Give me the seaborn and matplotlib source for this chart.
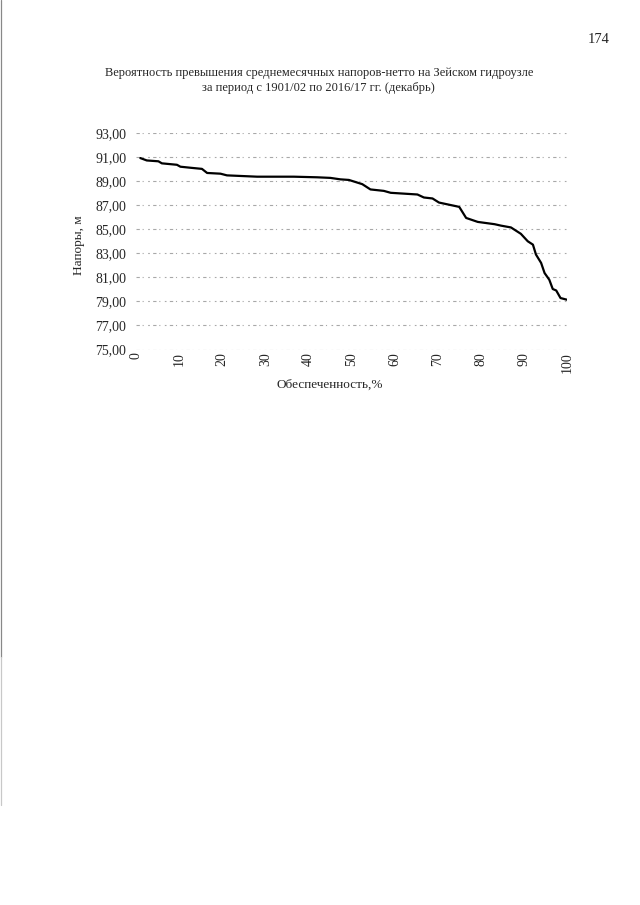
import matplotlib
matplotlib.use("Agg")
import matplotlib.pyplot as plt
import matplotlib.ticker as mticker
from matplotlib.lines import Line2D
import seaborn as sns
import pandas as pd

# Exceedance probability, % and monthly mean net head, m (December)
probability = [1.0, 2.5, 5.2, 6.0, 9.5, 10.3, 13.0, 15.3, 16.5, 19.6, 21.1,
               28.1, 36.6, 42.0, 45.1, 47.4, 49.4, 52.5, 54.4, 57.5, 59.1,
               65.3, 66.8, 68.8, 70.3, 75.0, 76.6, 79.3, 83.2, 84.7, 87.0,
               89.3, 90.9, 92.1, 92.8, 94.0, 94.8, 95.9, 96.7, 97.5, 98.5,
               100.0]
head = [90.92, 90.72, 90.65, 90.48, 90.36, 90.20, 90.10, 90.02, 89.68, 89.62,
        89.48, 89.37, 89.37, 89.32, 89.27, 89.15, 89.10, 88.75, 88.31, 88.19,
        88.03, 87.89, 87.64, 87.56, 87.22, 86.86, 85.94, 85.61, 85.42, 85.30,
        85.15, 84.62, 84.00, 83.72, 82.90, 82.20, 81.36, 80.80, 80.03, 79.91,
        79.28, 79.14]

x_ticks = [0, 10, 20, 30, 40, 50, 60, 70, 80, 90, 100]
y_ticks = [75, 77, 79, 81, 83, 85, 87, 89, 91, 93]

title = ("Вероятность превышения среднемесячных напоров-нетто на Зейском гидроузле\n"
         "за период с 1901/02 по 2016/17 гг. (декабрь)")

sns.set_theme(style="white")
plt.rcParams["font.family"] = ["Liberation Serif", "DejaVu Serif"]

df = pd.DataFrame({"p": probability, "h": head})

fig = plt.figure(figsize=(6.4, 9.05), dpi=100)
ax = fig.add_axes([0.2125, 0.6138, 0.6734, 0.2392])

# faint broken horizontal guide lines
for y in y_ticks:
    ax.axhline(y, color="#a8a8a8", linewidth=0.8,
               linestyle=(0, (3, 2.5, 1, 4, 1.5, 3)), zorder=1)

sns.lineplot(data=df, x="p", y="h", ax=ax, color="black", linewidth=1.6,
             zorder=3, estimator=None, sort=False)

ax.set_xlim(0, 100)
ax.set_ylim(75, 93)
ax.set_xticks(x_ticks)
ax.set_yticks(y_ticks)
ax.yaxis.set_major_formatter(mticker.FuncFormatter(lambda v, _: f"{v:.2f}".replace(".", ",")))
ax.tick_params(axis="x", labelrotation=90, labelsize=10, pad=2, length=0)
ax.tick_params(axis="y", labelsize=10, pad=7, length=0)
for s in ax.spines.values():
    s.set_visible(False)
ax.grid(False)

ax.set_xlabel("Обеспеченность,%", fontsize=9.5)
ax.xaxis.set_label_coords(0.45, -0.162)
ax.xaxis.label.set_va("center")
ax.set_ylabel("Напоры, м", fontsize=9.5)
ax.yaxis.set_label_coords(-0.132, 0.483)
ax.yaxis.label.set_va("center")

fig.text(0.498, 0.911, title, ha="center", va="center", fontsize=9,
         linespacing=1.3)
fig.text(0.952, 0.956, "174", ha="right", va="center", fontsize=10.5)

# thin page edge on the left
fig.add_artist(Line2D([0.0012, 0.0012], [1.0, 1 - 657 / 905], transform=fig.transFigure,
                      color="#888888", linewidth=0.9))
fig.add_artist(Line2D([0.0012, 0.0012], [1 - 657 / 905, 1 - 805 / 905], transform=fig.transFigure,
                      color="#c8c8c8", linewidth=0.9))

fig.savefig("out.png", dpi=100, facecolor="white")
